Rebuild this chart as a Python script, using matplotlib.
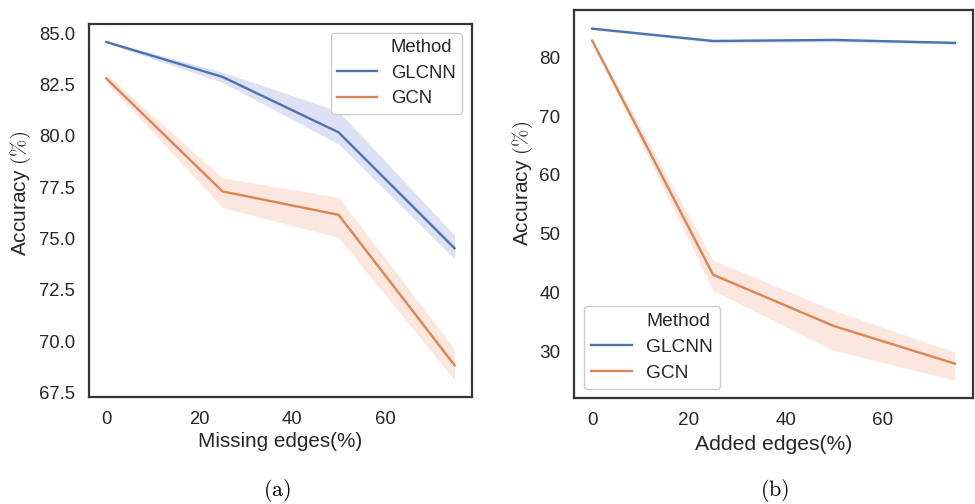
import matplotlib
matplotlib.use("Agg")
import matplotlib.pyplot as plt
import matplotlib.ticker as mticker
from matplotlib.lines import Line2D

# ---- data ----
x_pct = [0, 25, 50, 75]

a_glcnn = [84.57, 82.87, 80.17, 74.52]
a_glcnn_lo = [84.52, 82.60, 79.60, 74.00]
a_glcnn_hi = [84.62, 83.10, 81.20, 75.15]
a_gcn = [82.79, 77.29, 76.15, 68.82]
a_gcn_lo = [82.60, 76.50, 75.05, 68.10]
a_gcn_hi = [83.00, 77.95, 77.00, 69.60]

b_glcnn = [84.93, 82.83, 83.00, 82.50]
b_glcnn_lo = [84.75, 82.55, 82.70, 82.25]
b_glcnn_hi = [85.10, 83.05, 83.30, 82.75]
b_gcn = [82.90, 43.00, 34.25, 27.85]
b_gcn_lo = [82.60, 40.30, 30.10, 25.00]
b_gcn_hi = [83.20, 45.50, 36.90, 29.80]

methods = ["GLCNN", "GCN"]
colors = ["#4c72b0", "#dd8452"]
band_colors = ["#5a64c8", "#ec8a5c"]

plt.rcParams["font.family"] = ["Liberation Sans", "DejaVu Sans"]
plt.rcParams["mathtext.fontset"] = "cm"
TXT = "#262626"

fig = plt.figure(figsize=(9.75, 5.04), dpi=100)
axA = fig.add_axes([89/975, 1-397/504, (472-89)/975, (397-24)/504])
axB = fig.add_axes([574/975, 1-398/504, (973-574)/975, (398-10)/504])

def draw(ax, series, tick_fs, lab_fs, leg_fs, xlabel, ylabel_xy, xlabel_xy, leg_kw):
    for (m, lo, hi), c, bc, name in zip(series, colors, band_colors, methods):
        ax.fill_between(x_pct, lo, hi, color=bc, alpha=0.2, linewidth=0)
        ax.plot(x_pct, m, color=c, linewidth=1.7, label=name)
    for s in ax.spines.values():
        s.set_color("#353535")
        s.set_linewidth(1.6)
    ax.tick_params(length=0, labelsize=tick_fs, colors=TXT)
    ax.tick_params(axis="y", pad=10)
    ax.tick_params(axis="x", pad=10)
    ax.set_xlabel(xlabel, fontsize=lab_fs, color=TXT)
    ax.xaxis.set_label_coords(*xlabel_xy)
    ax.set_ylabel(r"Accuracy $(\%)$", fontsize=15, color=TXT)
    ax.yaxis.set_label_coords(*ylabel_xy)
    handles = [Line2D([], [], color="none")] + [
        Line2D([], [], color=c, linewidth=1.7) for c in colors]
    labels = ["Method"] + methods
    leg = ax.legend(handles, labels, fontsize=leg_fs, frameon=True,
                    fancybox=True, edgecolor="#cccccc", framealpha=1,
                    handlelength=2.15, handletextpad=0.75, borderpad=0.35,
                    labelspacing=0.45, borderaxespad=0, **leg_kw)
    leg.get_frame().set_linewidth(1.0)
    for t in leg.get_texts():
        t.set_color(TXT)

draw(axA,
     [(a_glcnn, a_glcnn_lo, a_glcnn_hi), (a_gcn, a_gcn_lo, a_gcn_hi)],
     13.3, 14.9, 13.3, "Missing edges(%)", (-0.146, 0.547), (0.499, -0.094),
     dict(loc="upper right", bbox_to_anchor=(0.974, 0.976)))
axA.yaxis.set_major_formatter(mticker.FormatStrFormatter("%.1f"))

draw(axB,
     [(b_glcnn, b_glcnn_lo, b_glcnn_hi), (b_gcn, b_gcn_lo, b_gcn_hi)],
     13.6, 15.2, 13.8, "Added edges(%)", (-0.098, 0.552), (0.501, -0.095),
     dict(loc="lower left", bbox_to_anchor=(0.025, 0.024)))

fig.text(277/975, 1-490/504, r"$\mathrm{(a)}$", fontsize=16, ha="center", va="center", color="black")
fig.text(775/975, 1-490/504, r"$\mathrm{(b)}$", fontsize=16, ha="center", va="center", color="black")

fig.savefig("out.png", dpi=100, facecolor="white")
